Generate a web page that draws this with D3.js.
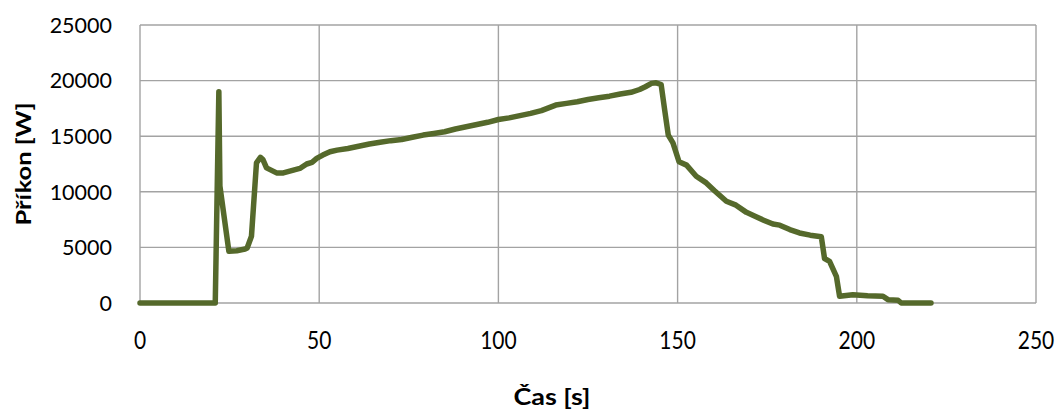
<!DOCTYPE html>
<html><head><meta charset="utf-8">
<script src="https://cdn.jsdelivr.net/npm/d3@7"></script>
<style>body{margin:0;background:#fff}svg{display:block}</style>
</head><body><svg id="c" width="1058" height="410"></svg>
<script>
const timeS = [0,21,22,22.3,24.8,27,29.3,29.9,31.1,32.5,33.6,34.3,35.3,38.1,40,42.8,44.6,46.5,48,49.3,51,53,55,58,61,64,67,70,73,76,79,82,85,88,91,94,97,100,103,106,109,112,114,116,119,122,125,128,131,134,137,139.4,141,142.7,144,145.4,146.4,147.4,148.7,150.4,152.5,155.2,158,160.3,163.6,166.3,169.2,171.9,174,176.6,178.5,181.3,184,187,190.1,191,192.4,194.3,195.2,198.9,203,207.3,208.7,211.5,212.4,220.7];
const powerW = [0,0,19000,10500,4650,4700,4850,4950,6000,12600,13100,12900,12150,11700,11700,11950,12100,12500,12650,13000,13300,13600,13750,13900,14100,14300,14450,14600,14700,14900,15100,15250,15400,15650,15850,16050,16250,16500,16650,16850,17050,17300,17550,17800,17950,18100,18300,18450,18600,18800,18950,19200,19450,19750,19800,19650,17350,15100,14400,12700,12400,11400,10800,10100,9150,8800,8150,7750,7450,7100,7000,6600,6300,6100,5950,4000,3750,2400,600,750,650,600,300,250,0,0];
const xTicks = [0,50,100,150,200,250];
const yTicks = [0,5000,10000,15000,20000,25000];
const xTitle = "Čas [s]";
const yTitle = "Příkon [W]";

const svg = d3.select("#c");
const L=140, R=1036, T=25, B=303;
const x = d3.scaleLinear().domain([0,250]).range([L,R]);
const y = d3.scaleLinear().domain([0,25000]).range([B,T]);
const font = "Lato, 'Open Sans', sans-serif";
const grid = "#a3a3a3";

svg.append("g").selectAll("line").data(yTicks).join("line")
  .attr("x1",L).attr("x2",R).attr("y1",d=>y(d)).attr("y2",d=>y(d))
  .attr("stroke",grid).attr("stroke-width",1.4);
svg.append("g").selectAll("line").data(xTicks).join("line")
  .attr("x1",d=>x(d)).attr("x2",d=>x(d)).attr("y1",T).attr("y2",B)
  .attr("stroke",grid).attr("stroke-width",1.4);

svg.append("g").selectAll("text").data(yTicks).join("text")
  .attr("x",112).attr("y",d=>y(d)).attr("dy","0.36em").attr("text-anchor","end")
  .attr("font-family",font).attr("font-size",21.5).attr("fill","#000").text(d=>d);
svg.append("g").selectAll("text").data(xTicks).join("text")
  .attr("transform",d=>`translate(${x(d)},340) scale(1,1.15)`)
  .attr("dy","0.36em").attr("text-anchor","middle")
  .attr("font-family",font).attr("font-size",21).attr("fill","#000").text(d=>d);

svg.append("text").attr("x",552).attr("y",397).attr("dy","0.36em").attr("text-anchor","middle")
  .attr("font-family",font).attr("font-size",22).attr("font-weight","bold")
  .attr("textLength",77).attr("lengthAdjust","spacingAndGlyphs").text(xTitle);
svg.append("text").attr("transform","translate(23,164) rotate(-90)").attr("dy","0.36em").attr("text-anchor","middle")
  .attr("font-family",font).attr("font-size",21.5).attr("font-weight","bold")
  .attr("textLength",123).attr("lengthAdjust","spacingAndGlyphs").text(yTitle);

const data = timeS.map((t,i)=>[t,powerW[i]]);
svg.append("path").datum(data)
  .attr("d", d3.line().x(d=>x(d[0])).y(d=>y(d[1])))
  .attr("fill","none").attr("stroke","#55692b").attr("stroke-width",5.5)
  .attr("stroke-linejoin","round").attr("stroke-linecap","round");
</script></body></html>
